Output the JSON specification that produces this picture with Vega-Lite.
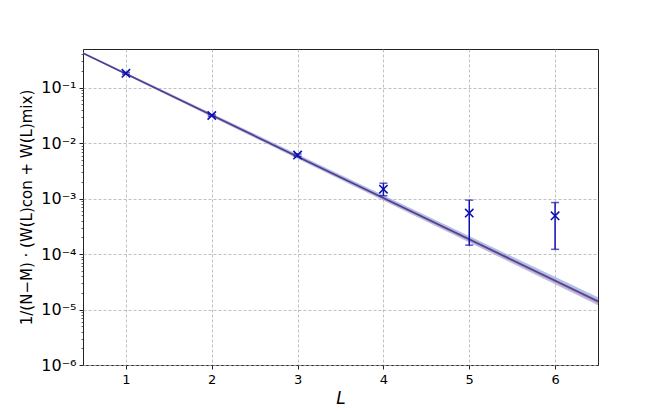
{
  "$schema": "https://vega.github.io/schema/vega-lite/v6.json",
  "width": 515,
  "height": 316,
  "autosize": {"type": "none"},
  "padding": {"left": 83, "top": 49, "right": 66, "bottom": 46},
  "background": "white",
  "config": {
    "view": {"stroke": "#222", "strokeWidth": 1},
    "font": "DejaVu Sans",
    "axis": {"labelFont": "DejaVu Sans", "labelColor": "black", "labelFontSize": 13, "tickColor": "#222", "domainColor": "#222", "gridColor": "#b0b0b0", "gridDash": [3, 2], "gridWidth": 0.8}
  },
  "datasets": {
    "pts": [
      {"L": 1, "W": 0.182, "lo": 0.175, "hi": 0.189},
      {"L": 2, "W": 0.0316, "lo": 0.0305, "hi": 0.0327},
      {"L": 3, "W": 0.0061, "lo": 0.0058, "hi": 0.0064},
      {"L": 4, "W": 0.00148, "lo": 0.00113, "hi": 0.0019},
      {"L": 5, "W": 0.00055, "lo": 0.000145, "hi": 0.00094},
      {"L": 6, "W": 0.00049, "lo": 0.000122, "hi": 0.00085}
    ],
    "fit": [
      {"L": 0.5, "band_lo": 0.405, "band_hi": 0.44, "red": 0.42, "blue": 0.42},
      {"L": 6.5, "band_lo": 1.2e-5, "band_hi": 1.66e-5, "red": 1.36e-5, "blue": 1.42e-5}
    ]
  },
  "layer": [
    {
      "data": {"name": "fit"},
      "mark": {"type": "area", "color": "#9aaade", "opacity": 0.75, "clip": true},
      "encoding": {
        "x": {"field": "L", "type": "quantitative", "scale": {"domain": [0.5, 6.5], "nice": false, "zero": false},
          "axis": {"values": [1, 2, 3, 4, 5, 6], "format": "d", "title": "L", "titleFontStyle": "italic", "titleFontWeight": "normal", "titleFontSize": 17, "titleFont": "DejaVu Sans", "titleColor": "black", "titlePadding": 4, "labelPadding": 4, "tickSize": 4, "grid": true, "domain": false}},
        "y": {"field": "band_lo", "type": "quantitative", "scale": {"type": "log", "domain": [1e-6, 0.5], "nice": false},
          "axis": {
            "values": [1e-6, 2e-6, 3e-6, 4e-6, 5e-6, 6e-6, 7e-6, 8e-6, 9e-6, 1e-5, 2e-5, 3e-5, 4e-5, 5e-5, 6e-5, 7e-5, 8e-5, 9e-5, 1e-4, 2e-4, 3e-4, 4e-4, 5e-4, 6e-4, 7e-4, 8e-4, 9e-4, 1e-3, 2e-3, 3e-3, 4e-3, 5e-3, 6e-3, 7e-3, 8e-3, 9e-3, 1e-2, 2e-2, 3e-2, 4e-2, 5e-2, 6e-2, 7e-2, 8e-2, 9e-2, 1e-1, 0.2, 0.3, 0.4],
            "labelExpr": "abs(log(datum.value)/LN10 - round(log(datum.value)/LN10)) < 0.001 ? '10⁻' + substring('⁰¹²³⁴⁵⁶⁷⁸⁹', -round(log(datum.value)/LN10), -round(log(datum.value)/LN10) + 1) : ''",
            "labelOverlap": false,
            "labelFontSize": 16, "labelPadding": 3,
            "tickSize": {"condition": {"test": "abs(log(datum.value)/LN10 - round(log(datum.value)/LN10)) < 0.001", "value": 4}, "value": 2},
            "tickWidth": {"condition": {"test": "abs(log(datum.value)/LN10 - round(log(datum.value)/LN10)) < 0.001", "value": 1}, "value": 0.7},
            "gridOpacity": {"condition": {"test": "abs(log(datum.value)/LN10 - round(log(datum.value)/LN10)) < 0.001", "value": 1}, "value": 0},
            "title": "1/(N−M) · (W(L)con + W(L)mix)", "titleFontWeight": "normal", "titleFontSize": 15, "titleColor": "black", "titlePadding": 6, "grid": true, "domain": false}},
        "y2": {"field": "band_hi"}
      }
    },
    {
      "data": {"name": "fit"},
      "mark": {"type": "line", "color": "#e02020", "strokeWidth": 1.2, "opacity": 0.6, "clip": true},
      "encoding": {
        "x": {"field": "L", "type": "quantitative"},
        "y": {"field": "red", "type": "quantitative"}
      }
    },
    {
      "data": {"name": "fit"},
      "mark": {"type": "line", "color": "#353595", "strokeWidth": 1.6, "opacity": 0.85, "clip": true},
      "encoding": {
        "x": {"field": "L", "type": "quantitative"},
        "y": {"field": "blue", "type": "quantitative"}
      }
    },
    {
      "data": {"name": "pts"},
      "mark": {"type": "rule", "color": "#1010b0", "strokeWidth": 1.5},
      "encoding": {
        "x": {"field": "L", "type": "quantitative"},
        "y": {"field": "lo", "type": "quantitative"},
        "y2": {"field": "hi"}
      }
    },
    {
      "data": {"name": "pts"},
      "mark": {"type": "tick", "orient": "horizontal", "color": "#1010b0", "size": 8, "thickness": 1.5},
      "encoding": {
        "x": {"field": "L", "type": "quantitative"},
        "y": {"field": "lo", "type": "quantitative"}
      }
    },
    {
      "data": {"name": "pts"},
      "mark": {"type": "tick", "orient": "horizontal", "color": "#1010b0", "size": 8, "thickness": 1.5},
      "encoding": {
        "x": {"field": "L", "type": "quantitative"},
        "y": {"field": "hi", "type": "quantitative"}
      }
    },
    {
      "data": {"name": "pts"},
      "mark": {"type": "point", "shape": "M-1,-1L1,1M-1,1L1,-1", "filled": false, "color": "#1010b0", "strokeWidth": 1.6, "size": 70, "opacity": 1},
      "encoding": {
        "x": {"field": "L", "type": "quantitative"},
        "y": {"field": "W", "type": "quantitative"}
      }
    }
  ]
}
